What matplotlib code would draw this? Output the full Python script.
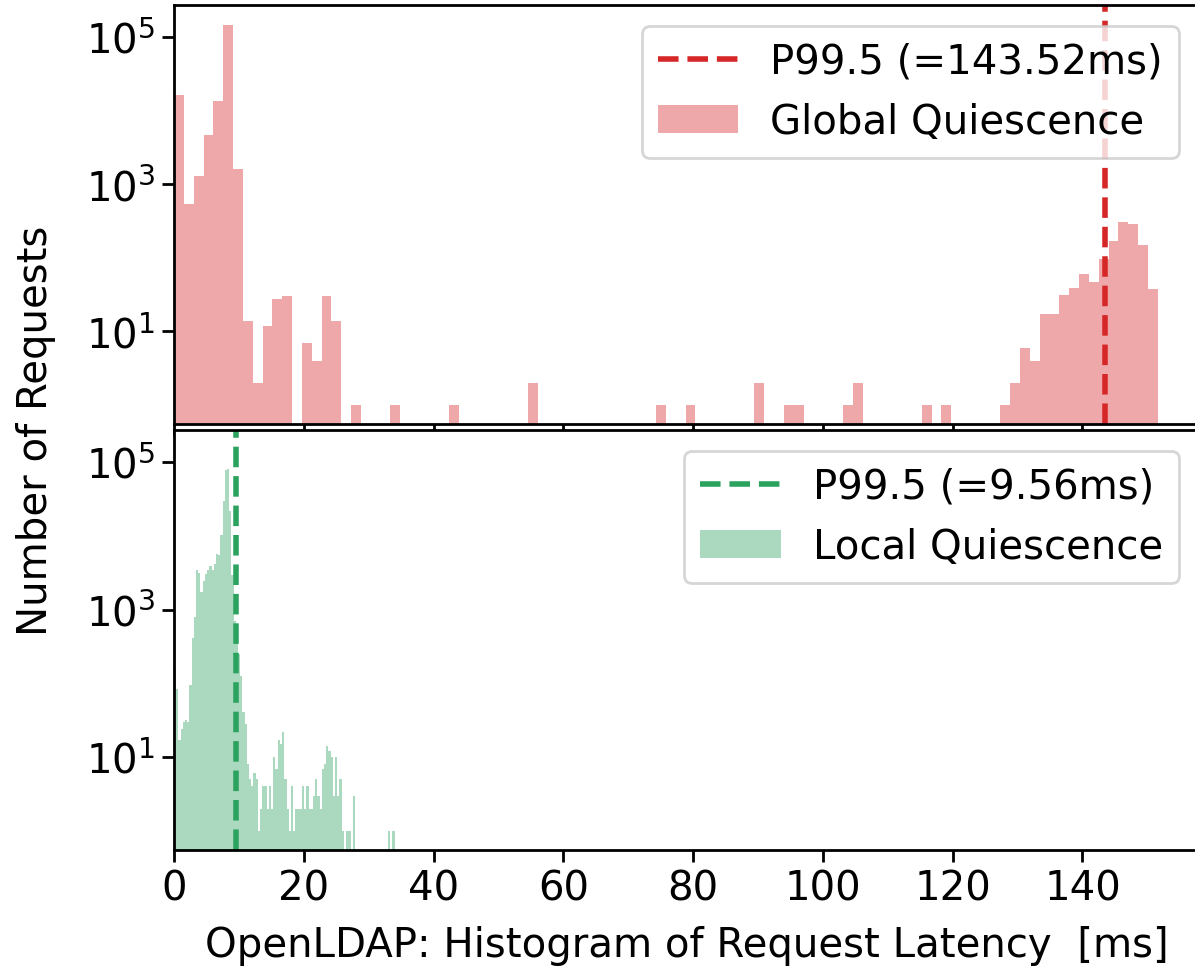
import matplotlib
matplotlib.use('Agg')
import matplotlib.pyplot as plt
import numpy as np

plt.rcParams['font.family'] = ['DejaVu Sans']
plt.rcParams['font.size'] = 29
plt.rcParams['axes.linewidth'] = 2.0

# histogram counts (100 bins each)
global_edges = np.linspace(0.0, 151.6, 101)
global_counts = [16400, 537, 1280, 4650, 13600, 145000, 1600, 14, 2, 12,
                 28, 30, 0, 7, 4, 30, 14, 0, 1, 0,
                 0, 0, 1, 0, 0, 0, 0, 0, 1, 0,
                 0, 0, 0, 0, 0, 0, 2, 0, 0, 0,
                 0, 0, 0, 0, 0, 0, 0, 0, 0, 1,
                 0, 0, 1, 0, 0, 0, 0, 0, 0, 2,
                 0, 0, 1, 1, 0, 0, 0, 0, 1, 2,
                 0, 0, 0, 0, 0, 0, 1, 0, 1, 0,
                 0, 0, 0, 0, 1, 2, 6, 4, 17, 17,
                 31, 39, 61, 47, 97, 170, 306, 288, 150, 38]
global_p995 = 143.52
global_name = 'Global Quiescence'

local_edges = np.linspace(0.0, 34.0, 101)
local_counts = [155, 83, 17, 24, 30, 32, 30, 94, 407, 785,
                3400, 3170, 1740, 2460, 3030, 3480, 3870, 3480, 4220, 5760,
                5500, 10200, 29600, 79000, 81000, 21600, 2960, 700, 537, 250,
                124, 41, 28, 8, 5, 4, 6, 5, 1, 2,
                4, 4, 2, 4, 2, 10, 7, 17, 15, 22,
                5, 2, 1, 4, 1, 2, 2, 2, 4, 2,
                4, 2, 2, 3, 5, 3, 2, 7, 8, 14,
                12, 10, 3, 10, 3, 5, 1, 0, 1, 1,
                0, 3, 0, 0, 0, 0, 0, 0, 0, 0,
                0, 0, 0, 0, 0, 0, 0, 1, 0, 1]
local_p995 = 9.56
local_name = 'Local Quiescence'

red = '#d62728'
green = '#2ca25f'

fig = plt.figure(figsize=(11.95, 9.78), dpi=100)
ax1 = fig.add_axes([0.1456, 0.5654, 0.858, 0.4280])
ax2 = fig.add_axes([0.1456, 0.1299, 0.858, 0.4290], sharex=ax1, sharey=ax1)

panels = [(ax1, global_edges, global_counts, global_p995, global_name, red),
          (ax2, local_edges, local_counts, local_p995, local_name, green)]

for ax, edges, counts, p995, name, col in panels:
    _, _, bars = ax.hist(edges[:-1], bins=edges, weights=counts,
                         color=col, alpha=0.4, log=True)
    line = ax.axvline(p995, color=col, ls='--', lw=4)
    ax.minorticks_off()
    ax.set_yticks([1e1, 1e3, 1e5])
    ax.tick_params(length=8.5, width=2.0, pad=5)
    leg = ax.legend([line, bars[0]], ['P99.5 (=%.2fms)' % p995, name],
                    loc='upper right', fontsize=29)
    leg.get_frame().set_linewidth(2.0)

ax1.set_xlim(0, 158)
ax1.set_ylim(0.55, 2.7e5)
ax1.tick_params(labelbottom=False)

ax2.set_xticks(np.arange(0, 141, 20))
ax2.set_xlabel('OpenLDAP: Histogram of Request Latency  [ms]', labelpad=12)
fig.text(0.03, 0.56, 'Number of Requests', rotation=90, va='center', ha='center')

fig.savefig('out.png', dpi=100)
